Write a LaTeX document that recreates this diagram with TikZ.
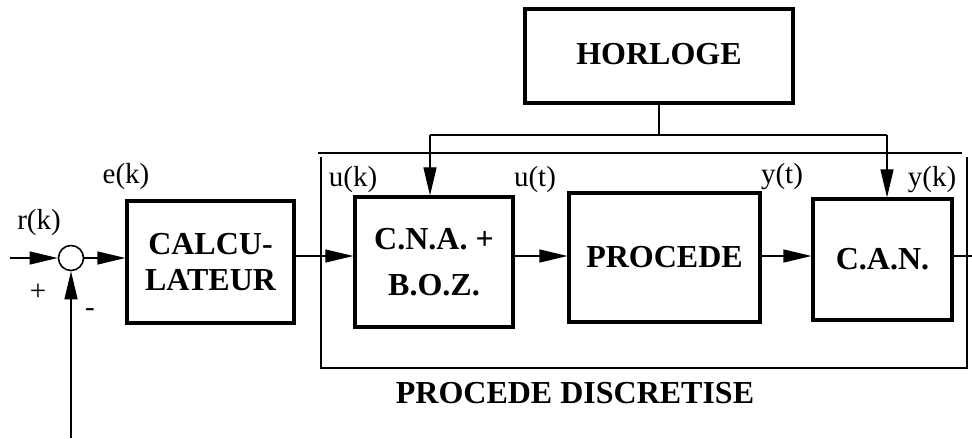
\documentclass[tikz,border=0pt]{standalone}
\usepackage{fontspec}
\setmainfont{Liberation Serif}
\usepackage{tikz}
\usetikzlibrary{arrows.meta,positioning}
\tikzset{
  blok/.style  = {draw, line width=1.6pt, align=center, inner sep=0pt,
                  font=\bfseries\fontsize{16}{18}\selectfont},
  sumnode/.style = {circle, draw, line width=0.8pt, minimum size=12.5pt, inner sep=0pt},
  siglab/.style = {inner sep=0pt, font=\fontsize{14.5}{16}\selectfont},
  link/.style  = {-{Triangle[length=14pt,width=6.5pt]}, line width=0.6pt},
  wire/.style  = {line width=0.6pt},
}
\begin{document}
\begin{tikzpicture}[x=0.5pt, y=-0.5pt]
\useasboundingbox (0,0) rectangle (972,438);

% ---------------- the blocks ------------------------------------------
\node[blok, minimum width=134pt, minimum height=47pt] (horloge) at (659,56)
  {\raisebox{2.5pt}{HORLOGE}};
\node[blok, minimum width=83.5pt, minimum height=61pt] (calc) at (210.5,262)
  {CALCU-\\LATEUR};
\node[blok, minimum width=79pt, minimum height=65pt] (cna) at (434,262)
  {C.N.A. +\\[5pt]B.O.Z.};
\node[blok, minimum width=95.5pt, minimum height=64.5pt] (proc) at (664.5,257.5)
  {PROCEDE};
\node[blok, minimum width=69.5pt, minimum height=60.5pt] (can) at (882.5,259.5)
  {C.A.N.};
\node[sumnode] (sum) at (71,258) {};

\coordinate (sig)  at (0,256);
\coordinate (in)   at (10,258);
\coordinate (fb)   at (71,438);
\coordinate (out)  at (972,256);
\coordinate (tapL) at (430,135);
\coordinate (tapR) at (887,135);

% ---------------- the signal chain ------------------------------------
\draw[link] (in) -- (sum.west);
\draw[link] (fb) -- (sum.south);
\draw[link] (sum.east) -- (calc.west |- sum);
\draw[link] (calc.east |- sig) -- (cna.west |- sig);
\draw[link] (cna.east |- sig) -- (proc.west |- sig);
\draw[link] (proc.east |- sig) -- (can.west |- sig);
\draw[wire] (can.east |- sig) -- (out);

% ---------------- the clock -------------------------------------------
\draw[wire] (horloge.south) -- (horloge.south |- tapL);
\draw[wire] (tapL) -- (tapR);
\draw[link] (tapL) -- (tapL |- cna.north);
\draw[link] (tapR) -- (tapR |- can.north);

% ---------------- the discretised process frame -----------------------
\draw[wire] (318,153) -- (962,153);
\draw[wire] (321,157) -- (321,369);
\draw[wire] (967,157) -- (967,369);
\draw[wire] (321,368) -- (968,368);

% ---------------- labels ----------------------------------------------
\node[siglab] (rk) at (39,223) {r(k)};
\node[siglab] (plus) at (38,292) {+};
\node[siglab] (minus) at (90,313) {-};
\node[siglab] (ek) at (126,177) {e(k)};
\node[siglab] (uk) at (353,180) {u(k)};
\node[siglab] (ut) at (535,180) {u(t)};
\node[siglab] (yt) at (782,177) {y(t)};
\node[siglab] (yk) at (932,180) {y(k)};
\node[font=\bfseries\fontsize{16}{18}\selectfont] (title) at (575,393)
  {PROCEDE DISCRETISE};

\end{tikzpicture}
\end{document}
